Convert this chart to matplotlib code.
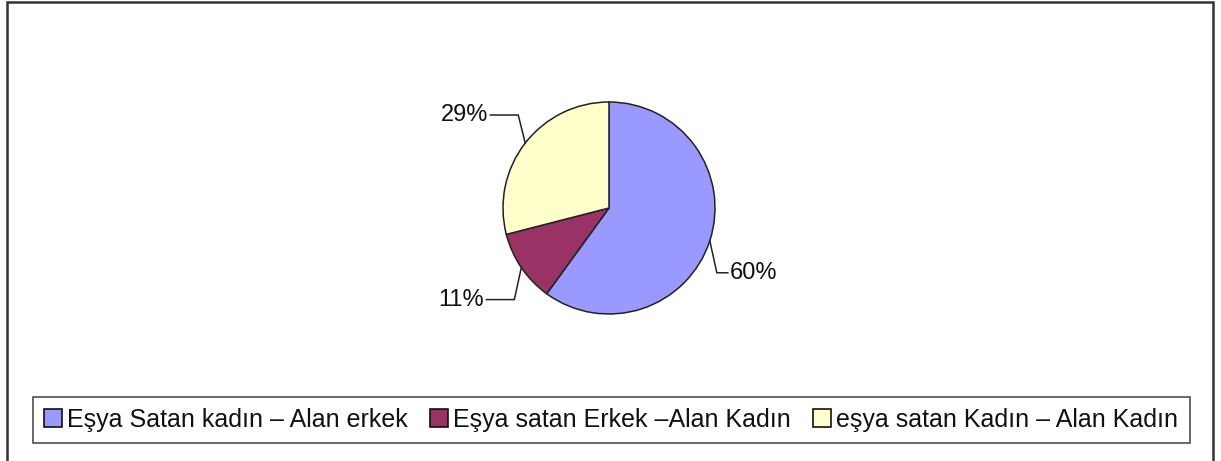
import matplotlib
matplotlib.use("Agg")
import matplotlib.pyplot as plt
from matplotlib.patches import Rectangle, Patch
import numpy as np

labels = ["Eşya Satan kadın – Alan erkek", "Eşya satan Erkek –Alan Kadın", "eşya satan Kadın – Alan Kadın"]
shares = [60, 11, 29]
pct_text = ["60%", "11%", "29%"]
colors = ["#9999FF", "#993366", "#FFFFCC"]

plt.rcParams['font.family'] = ['Liberation Sans', 'DejaVu Sans']

W, H = 1221, 461
fig = plt.figure(figsize=(W / 100, H / 100), dpi=100)
fig.patch.set_facecolor("white")

# outer frame (bottom edge runs off the picture)
fig.add_artist(Rectangle((7 / W, -0.05), (1213 - 7) / W, 1 - 2 / H + 0.05,
                         transform=fig.transFigure, fill=False, ec="#333333", lw=1.8))

# axes in pixel units, y going up
ax = fig.add_axes([0, 0, 1, 1])
cx, cy, r = 609, H - 208, 106
wedges, _ = ax.pie(shares, colors=colors, startangle=90, counterclock=False,
                   center=(cx, cy), radius=r, frame=True,
                   wedgeprops=dict(edgecolor="#222222", linewidth=1.1))
ax.set_xlim(0, W)
ax.set_ylim(0, H)
ax.set_aspect("equal")
ax.axis("off")

for w, t in zip(wedges, pct_text):
    mid = np.deg2rad((w.theta1 + w.theta2) / 2)
    ex, ey = cx + r * np.cos(mid), cy + r * np.sin(mid)
    sx = 1 if np.cos(mid) > 0 else -1
    sy = 1 if np.sin(mid) > 0 else -1
    kx, ky = ex + sx * 7, ey + sy * (28 if sy > 0 else 32)
    hx = kx + sx * (11 if sx > 0 else 28)
    ax.plot([ex, kx, hx], [ey, ky, ky], color="#222222", lw=1.1)
    ax.text(hx + sx * 2, ky, t, ha="left" if sx > 0 else "right", va="center",
            fontsize=17, color="#111111")

handles = [Patch(facecolor=c, edgecolor="#111111", linewidth=1.2) for c in colors]
leg = fig.legend(handles, labels, ncol=3, loc="center",
                 bbox_to_anchor=(611 / W, 1 - 420 / H),
                 frameon=True, fancybox=False, fontsize=18,
                 handlelength=0.72, handleheight=0.72, handletextpad=0.2,
                 columnspacing=0.9, borderpad=0.45, borderaxespad=0)
leg.get_frame().set_edgecolor("#222222")
leg.get_frame().set_linewidth(1.2)
for txt in leg.get_texts():
    txt.set_color("#111111")

fig.savefig("out.png", dpi=100)
